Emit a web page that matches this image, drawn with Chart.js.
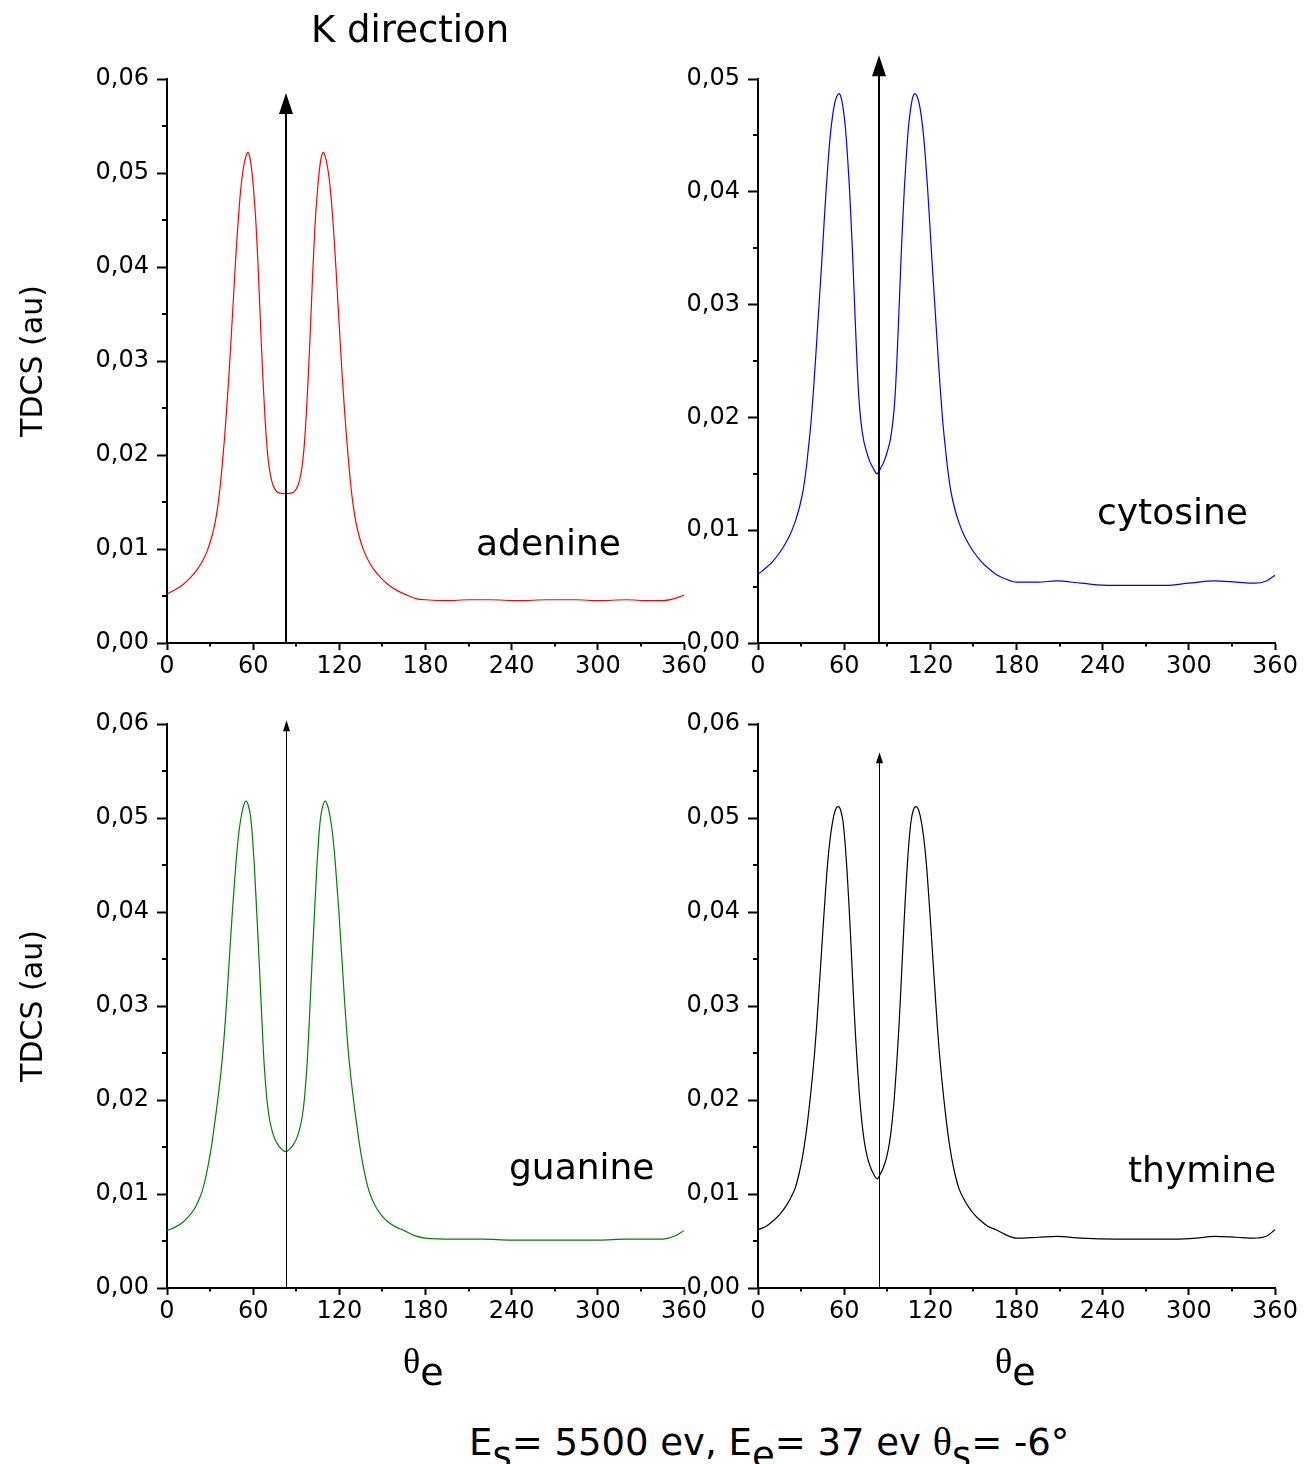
<!DOCTYPE html>
<html>
<head>
<meta charset="utf-8">
<script src="https://cdn.jsdelivr.net/npm/chart.js@4.4.1/dist/chart.umd.min.js"></script>
<style>
    body { margin: 0; background: #fff; }
    #page { position: relative; width: 1305px; height: 1464px; overflow: hidden; font-family: 'DejaVu Sans', sans-serif; color: #000; }
    canvas { position: absolute; }
    .txt { position: absolute; line-height: 1; white-space: nowrap; font-size: 36px; }
    .sub { position: relative; top: 13px; }
    .th { font-family: 'Liberation Serif', serif; }
</style>
</head>
<body>
<div id="page">
    <canvas id="adenineChart" width="714" height="720" style="left:0;top:0"></canvas>
    <canvas id="cytosineChart" width="714" height="720" style="left:591px;top:0"></canvas>
    <canvas id="guanineChart" width="714" height="720" style="left:0;top:645px"></canvas>
    <canvas id="thymineChart" width="714" height="720" style="left:591px;top:645px"></canvas>

    <div class="txt" style="left:311px;top:11px;font-size:37px">K direction</div>
    <div class="txt" style="left:476px;top:525px">adenine</div>
    <div class="txt" style="left:1097px;top:494px">cytosine</div>
    <div class="txt" style="left:509px;top:1149px">guanine</div>
    <div class="txt" style="left:1128px;top:1152px">thymine</div>

    <div class="txt" style="left:403px;top:1341px"><span class="th" style="font-size:36px">θ</span><span class="sub" style="top:12px;font-size:38px">e</span></div>
    <div class="txt" style="left:995px;top:1341px"><span class="th" style="font-size:36px">θ</span><span class="sub" style="top:12px;font-size:38px">e</span></div>

    <div class="txt" style="left:469px;top:1422px;font-size:37px">E<span class="sub">s</span>= 5500 ev, E<span class="sub">e</span>= 37 ev <span class="th" style="font-size:40px">θ</span><span class="sub">s</span>= -6°</div>
</div>

<script>
// ejected electron angle (deg) and TDCS (au)
var adenineAngle = [0, 6, 11, 16, 21, 25, 28, 31, 33.5, 35.5, 37, 38.5, 40, 41.5, 43, 44.5, 46, 47.5, 49, 50.5,
    52, 53.5, 55, 56.2, 57.5, 59, 60.5, 62, 63.3, 64.5, 65.7, 67, 68.3, 69.7, 71.2, 73, 75, 77.5, 82.6, 87.7,
    90.1, 92.1, 93.9, 95.4, 96.8, 98.1, 99.4, 100.6, 101.8, 103.1, 104.6, 106.1, 107.6, 108.9, 110.1, 111.6, 113.1, 114.6, 116.1, 117.6,
    119.1, 120.6, 122.1, 123.6, 125.1, 126.6, 128.1, 129.6, 131.6, 134.1, 137.1, 140.1, 144.1, 149.1, 154.1, 160, 167, 174, 180, 195,
    210, 225, 245, 265, 285, 300, 320, 335, 345, 355, 360];
var adenineTdcs = [0.0052, 0.0057, 0.0062, 0.0069, 0.0078, 0.0088, 0.0098, 0.0112, 0.0128, 0.0147, 0.0166, 0.0190, 0.0217, 0.0248, 0.0282, 0.0320, 0.0360, 0.0400, 0.0437, 0.0468,
    0.0492, 0.0508, 0.0518, 0.0522, 0.0518, 0.0503, 0.0478, 0.0445, 0.0405, 0.0362, 0.0318, 0.0275, 0.0238, 0.0207, 0.0186, 0.0172, 0.0164, 0.0160, 0.0159, 0.0160,
    0.0164, 0.0172, 0.0186, 0.0207, 0.0238, 0.0275, 0.0318, 0.0362, 0.0405, 0.0445, 0.0478, 0.0503, 0.0518, 0.0522, 0.0518, 0.0508, 0.0492, 0.0468, 0.0437, 0.0400,
    0.0360, 0.0320, 0.0282, 0.0248, 0.0217, 0.0190, 0.0166, 0.0147, 0.0128, 0.0112, 0.0098, 0.0088, 0.0078, 0.0069, 0.0062, 0.0056, 0.0051, 0.0047, 0.0046, 0.0045,
    0.0046, 0.0046, 0.0045, 0.0046, 0.0046, 0.0045, 0.0046, 0.0045, 0.0045, 0.0048, 0.0051];

var cytosineAngle = [0, 5, 10, 15, 19, 23, 26, 29, 31.5, 33.5, 35.3, 37, 38.5, 40, 41.5, 43, 44.5, 46, 47.5, 49,
    50.5, 52, 53.5, 55, 56.4, 57.8, 59.5, 61, 62.5, 63.6, 64.6, 65.7, 66.7, 67.7, 68.9, 70.2, 71.7, 73.5, 75.5, 77.8,
    80.2, 82.8, 85.4, 87.8, 90.1, 92.1, 93.9, 95.4, 96.7, 97.9, 98.9, 99.9, 101, 102, 103.1, 104.6, 106.1, 107.8, 109.2, 110.6,
    112.1, 113.6, 115.1, 116.6, 118.1, 119.6, 121.1, 122.6, 124.1, 125.6, 127.1, 128.6, 130.3, 132.1, 134.1, 136.6, 139.6, 142.6, 146.6, 150.6,
    155.6, 160.6, 165.6, 172, 180, 195, 208, 225, 246, 265, 284, 300, 318, 333, 346, 354, 360];
var cytosineTdcs = [0.0061, 0.0066, 0.0072, 0.0080, 0.0088, 0.0098, 0.0108, 0.0121, 0.0136, 0.0154, 0.0175, 0.0197, 0.0222, 0.0250, 0.0280, 0.0310, 0.0340, 0.0372, 0.0403, 0.0430,
    0.0452, 0.0468, 0.0479, 0.0485, 0.0487, 0.0484, 0.0472, 0.0455, 0.0428, 0.0405, 0.0380, 0.0350, 0.0318, 0.0286, 0.0250, 0.0218, 0.0196, 0.0180, 0.0170, 0.0161,
    0.0155, 0.0150, 0.0155, 0.0161, 0.0170, 0.0180, 0.0196, 0.0218, 0.0250, 0.0286, 0.0318, 0.0350, 0.0380, 0.0405, 0.0428, 0.0455, 0.0472, 0.0484, 0.0487, 0.0485,
    0.0479, 0.0468, 0.0452, 0.0430, 0.0403, 0.0372, 0.0340, 0.0310, 0.0280, 0.0250, 0.0222, 0.0197, 0.0175, 0.0154, 0.0136, 0.0121, 0.0108, 0.0098, 0.0088, 0.0080,
    0.0072, 0.0066, 0.0061, 0.0057, 0.0054, 0.0054, 0.0055, 0.0053, 0.0051, 0.0051, 0.0051, 0.0053, 0.0055, 0.0054, 0.0053, 0.0055, 0.0060];

var guanineAngle = [0, 6, 11, 15, 19, 22, 24.5, 27, 29.2, 31.1, 33, 34.4, 35.8, 37.5, 39.2, 40.4, 41.5, 43.4, 45.5, 48, 50,
    51.5, 53.3, 55, 56.7, 58.3, 59.6, 60.8, 62.4, 64.1, 65.4, 66.3, 67.3, 68.4, 69.6, 71, 72.7, 74.7, 77, 79.6, 82.6,
    85.6, 88.2, 90.5, 92.5, 94.2, 95.6, 96.8, 97.9, 98.9, 99.8, 101.1, 102.8, 104.4, 105.6, 106.9, 108.5, 110.2, 111.9, 113.7, 115.2,
    117.2, 119.7, 121.8, 123.7, 124.8, 126, 127.7, 129.4, 130.8, 132.2, 134.1, 136, 138.2, 140.7, 143.2, 146.2, 150.2, 154.2, 159.2, 165.2, 172,
    180, 200, 220, 240, 260, 280, 300, 320, 335, 345, 353, 360];
var guanineTdcs = [0.0061, 0.0065, 0.0070, 0.0076, 0.0084, 0.0093, 0.0103, 0.0118, 0.0135, 0.0152, 0.0173, 0.0189, 0.0206, 0.0229, 0.0256, 0.0280, 0.0304, 0.0350, 0.0400, 0.0452, 0.0484,
    0.0500, 0.0513, 0.0518, 0.0513, 0.0500, 0.0478, 0.0450, 0.0402, 0.0350, 0.0308, 0.0278, 0.0247, 0.0222, 0.0200, 0.0183, 0.0170, 0.0160, 0.0153, 0.0148, 0.0145,
    0.0148, 0.0153, 0.0160, 0.0170, 0.0183, 0.0200, 0.0222, 0.0247, 0.0278, 0.0308, 0.0350, 0.0402, 0.0450, 0.0478, 0.0500, 0.0513, 0.0518, 0.0513, 0.0500, 0.0484,
    0.0452, 0.0400, 0.0350, 0.0304, 0.0280, 0.0256, 0.0229, 0.0206, 0.0189, 0.0173, 0.0152, 0.0135, 0.0118, 0.0103, 0.0093, 0.0084, 0.0076, 0.0070, 0.0065, 0.0061, 0.0056,
    0.0053, 0.0052, 0.0052, 0.0051, 0.0051, 0.0051, 0.0051, 0.0052, 0.0052, 0.0052, 0.0055, 0.0061];

var thymineAngle = [0, 6, 11, 15, 19, 22.5, 25.8, 28.5, 30.8, 32.8, 34.6, 36.3, 37.9, 39.4, 40.8, 42.2, 43.7, 45.2, 46.8, 48.5,
    50.3, 52.2, 54, 55.9, 57.6, 59.2, 60.6, 61.9, 63.2, 64.4, 65.6, 66.8, 68, 69.3, 70.7, 72.3, 74, 76, 78.2, 80.6,
    83, 85.1, 87.5, 89.7, 91.7, 93.4, 95, 96.4, 97.7, 98.9, 100.1, 101.3, 102.5, 103.8, 105.1, 106.5, 108.1, 109.8, 111.7, 113.5,
    115.4, 117.2, 118.9, 120.5, 122, 123.5, 124.9, 126.3, 127.8, 129.4, 131.1, 132.9, 134.9, 137.2, 139.9, 143.2, 146.7, 150.7, 154.7, 159.7,
    165.7, 172, 180, 195, 208, 225, 250, 270, 290, 305, 318, 333, 345, 354, 360];
var thymineTdcs = [0.0062, 0.0066, 0.0072, 0.0078, 0.0086, 0.0095, 0.0106, 0.0121, 0.0138, 0.0157, 0.0178, 0.0201, 0.0225, 0.0250, 0.0278, 0.0310, 0.0345, 0.0381, 0.0417, 0.0452,
    0.0479, 0.0498, 0.0509, 0.0512, 0.0508, 0.0496, 0.0474, 0.0446, 0.0412, 0.0376, 0.0338, 0.0300, 0.0266, 0.0234, 0.0204, 0.0177, 0.0156, 0.0140, 0.0129, 0.0121,
    0.0116, 0.0121, 0.0129, 0.0140, 0.0156, 0.0177, 0.0204, 0.0234, 0.0266, 0.0300, 0.0338, 0.0376, 0.0412, 0.0446, 0.0474, 0.0496, 0.0508, 0.0512, 0.0509, 0.0498,
    0.0479, 0.0452, 0.0417, 0.0381, 0.0345, 0.0310, 0.0278, 0.0250, 0.0225, 0.0201, 0.0178, 0.0157, 0.0138, 0.0121, 0.0106, 0.0095, 0.0086, 0.0078, 0.0072, 0.0066,
    0.0062, 0.0057, 0.0053, 0.0054, 0.0055, 0.0053, 0.0052, 0.0052, 0.0052, 0.0053, 0.0055, 0.0054, 0.0053, 0.0055, 0.0062];

// K direction arrow: angle and where its tip sits (adenine, cytosine, guanine, thymine)
var kAngle = [83, 84, 83, 84];
var kTop = [0.0585, 0.0521, 0.0604, 0.0570];
var yMaxes = [0.06, 0.05, 0.06, 0.06];

var fontFamily = "'DejaVu Sans', sans-serif";

function tdcsLabel(v) {
    return v.toFixed(2).replace('.', ',');
}

// Origin style short minor ticks between the major ones
var minorTicks = {
    id: 'minorTicks',
    afterDraw: function (chart, args, opts) {
        var ctx = chart.ctx, x = chart.scales.x, y = chart.scales.y, area = chart.chartArea;
        ctx.save();
        ctx.strokeStyle = '#000';
        ctx.lineWidth = 2;
        ctx.beginPath();
        for (var a = opts.xStep / 2; a < x.max; a += opts.xStep) {
            var px = Math.round(x.getPixelForValue(a));
            ctx.moveTo(px, area.bottom);
            ctx.lineTo(px, area.bottom + opts.xLen);
        }
        for (var v = opts.yStep / 2; v < y.max; v += opts.yStep) {
            var py = Math.round(y.getPixelForValue(v));
            ctx.moveTo(area.left, py);
            ctx.lineTo(area.left - opts.yLen, py);
        }
        ctx.stroke();
        ctx.restore();
    }
};

var kArrow = {
    id: 'kArrow',
    afterDatasetsDraw: function (chart, args, opts) {
        var ctx = chart.ctx, x = chart.scales.x, y = chart.scales.y;
        var px = Math.round(x.getPixelForValue(opts.angle)) + (opts.lineWidth % 2 ? 0.5 : 0);
        var yTip = y.getPixelForValue(opts.top);
        var yBase = y.getPixelForValue(0);
        ctx.save();
        ctx.strokeStyle = '#000';
        ctx.fillStyle = '#000';
        ctx.lineWidth = opts.lineWidth;
        ctx.beginPath();
        ctx.moveTo(px, yBase);
        ctx.lineTo(px, yTip + opts.headLength - 1);
        ctx.stroke();
        ctx.beginPath();
        ctx.moveTo(px, yTip);
        ctx.lineTo(px - opts.headWidth / 2, yTip + opts.headLength);
        ctx.lineTo(px + opts.headWidth / 2, yTip + opts.headLength);
        ctx.closePath();
        ctx.fill();
        ctx.restore();
    }
};

function drawPanel(id, angles, values, color, i, showTitle, bigArrow) {
    var points = angles.map(function (a, k) { return { x: a, y: values[k] }; });
    var tickFont = { family: fontFamily, size: 24 };

    return new Chart(document.getElementById(id), {
        type: 'line',
        data: {
            datasets: [{
                data: points,
                borderColor: color,
                borderWidth: 1.2,
                pointRadius: 0,
                fill: false,
                cubicInterpolationMode: 'monotone'
            }]
        },
        options: {
            responsive: false,
            animation: false,
            devicePixelRatio: 1,
            events: [],
            layout: { padding: { top: 79, right: 30, left: 0, bottom: 0 } },
            plugins: {
                legend: { display: false },
                tooltip: { enabled: false },
                minorTicks: { xStep: 60, xLen: 3.5, yStep: 0.01, yLen: 5 },
                kArrow: {
                    angle: kAngle[i],
                    top: kTop[i],
                    lineWidth: bigArrow ? 2 : 1,
                    headWidth: bigArrow ? 14 : 7,
                    headLength: bigArrow ? 21 : 11
                }
            },
            scales: {
                x: {
                    type: 'linear',
                    min: 0,
                    max: 360,
                    afterFit: function (s) { s.height = 77; },
                    ticks: { stepSize: 60, autoSkip: false, maxRotation: 0, padding: 2, color: '#000', font: tickFont },
                    grid: { drawOnChartArea: false, tickLength: 7, tickWidth: 2, tickColor: '#000' },
                    border: { color: '#000', width: 2 }
                },
                y: {
                    min: 0,
                    max: yMaxes[i],
                    afterFit: function (s) { s.width = 167; },
                    ticks: { stepSize: 0.01, padding: 8, color: '#000', font: tickFont, callback: tdcsLabel },
                    grid: { drawOnChartArea: false, tickLength: 10, tickWidth: 2, tickColor: '#000' },
                    border: { color: '#000', width: 2 },
                    title: {
                        display: showTitle,
                        text: 'TDCS (au)',
                        color: '#000',
                        font: { family: fontFamily, size: 30 },
                        padding: { top: 16, bottom: 0 }
                    }
                }
            }
        },
        plugins: [minorTicks, kArrow]
    });
}

drawPanel('adenineChart', adenineAngle, adenineTdcs, '#ff0000', 0, true, true);
drawPanel('cytosineChart', cytosineAngle, cytosineTdcs, '#0000ff', 1, false, true);
drawPanel('guanineChart', guanineAngle, guanineTdcs, '#008000', 2, true, false);
drawPanel('thymineChart', thymineAngle, thymineTdcs, '#000000', 3, false, false);
</script>
</body>
</html>
